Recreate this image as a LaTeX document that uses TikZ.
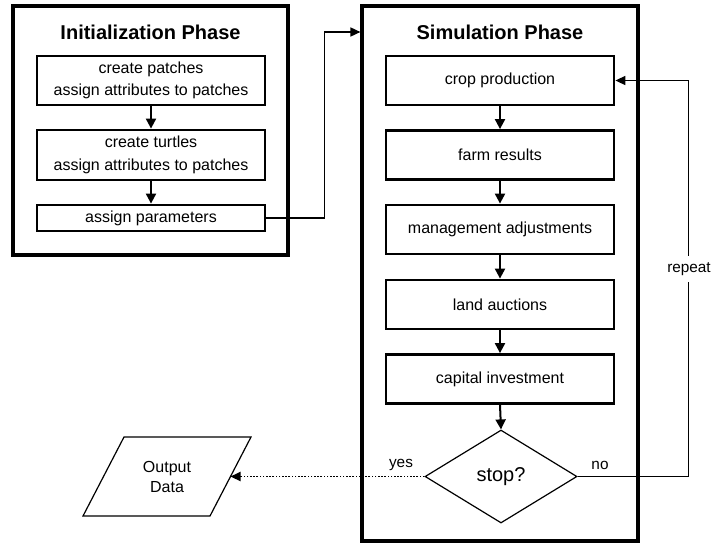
\documentclass[tikz,border=0pt]{standalone}
\usepackage{fontspec}
\setmainfont{Liberation Sans}
\usetikzlibrary{arrows.meta,shapes.geometric,calc}
\begin{document}
\begin{tikzpicture}[x=0.75pt,y=-0.75pt,
  outerbox/.style={draw, line width=2.4pt, inner sep=0},
  stepbox/.style={draw, line width=2.1pt, inner sep=0, minimum width=171pt, minimum height=36.75pt, align=center, font=\fontsize{12}{17}\selectfont},
  titletext/.style={font=\fontsize{15}{18}\selectfont\bfseries},
  flow/.style={line width=1.5pt, -{Triangle[length=7.5pt,width=7.5pt]}},
  thinarrow/.style={line width=1.1pt, -{Triangle[length=7.5pt,width=6.8pt]}},
  dotarrow/.style={line width=1.4pt, dash pattern=on 1.2pt off 1.2pt, -{Triangle[length=7.5pt,width=6.8pt]}},
  lbl/.style={font=\fontsize{11.5}{13}\selectfont},
]
\useasboundingbox (0,0) rectangle (712,543);
% phase frames
\node[outerbox, minimum width=206.25pt, minimum height=186.75pt] (init) at (150.5,130.5) {};
\node[outerbox, minimum width=207pt, minimum height=401.25pt] (sim) at (500,273.5) {};
\node[titletext] (t1) at (150.5,32) {Initialization Phase};
\node[titletext] (t2) at (500,32) {Simulation Phase};
% initialization steps
\node[stepbox] (p1) at (151,80.5) {create patches\\assign attributes to patches};
\node[stepbox, minimum height=37.5pt] (p2) at (151,155) {create turtles\\assign attributes to patches};
\node[stepbox, minimum height=19.5pt] (p3) at (151,218) {assign parameters};
% simulation steps
\node[stepbox] (s1) at (500,80.5) {crop production};
\node[stepbox] (s2) at (500,155) {farm results};
\node[stepbox] (s3) at (500,229.5) {management adjustments};
\node[stepbox] (s4) at (500,304.5) {land auctions};
\node[stepbox] (s5) at (500,379) {capital investment};
\node[diamond, draw, line width=0.9pt, inner sep=0, minimum width=114pt, minimum height=69.75pt, font=\fontsize{15}{18}\selectfont] (d) at (501,476.5) {stop?};
% output parallelogram
\draw[line width=0.9pt, line join=miter] (83,516) -- (124,437) -- (251,437) -- (210,516) -- cycle;
\node[align=center, font=\fontsize{12}{15}\selectfont] (out) at (167,476.5) {Output\\Data};
\coordinate (outR) at (230.5,476.5);
% connectors
\draw[flow] (p1.south) -- (p2.north);
\draw[flow] (p2.south) -- (p3.north);
\draw[flow] (s1.south) -- (s2.north);
\draw[flow] (s2.south) -- (s3.north);
\draw[flow] (s3.south) -- (s4.north);
\draw[flow] (s4.south) -- (s5.north);
\draw[flow] (s5.south) -- (d.north);
\draw[thinarrow] (p3.east) -- ++(58,0) |- (sim.west |- t2);
\draw[thinarrow] (d.east) -- ++(111,0) |- (s1.east);
\node[lbl, fill=white, inner xsep=1pt, inner ysep=5pt] (rep) at (689,269) {repeat};
\node[lbl] (no) at (600,465) {no};
\node[lbl] (yes) at (401,465) {yes};
\draw[dotarrow] (d.west) -- (outR);
\end{tikzpicture}
\end{document}
